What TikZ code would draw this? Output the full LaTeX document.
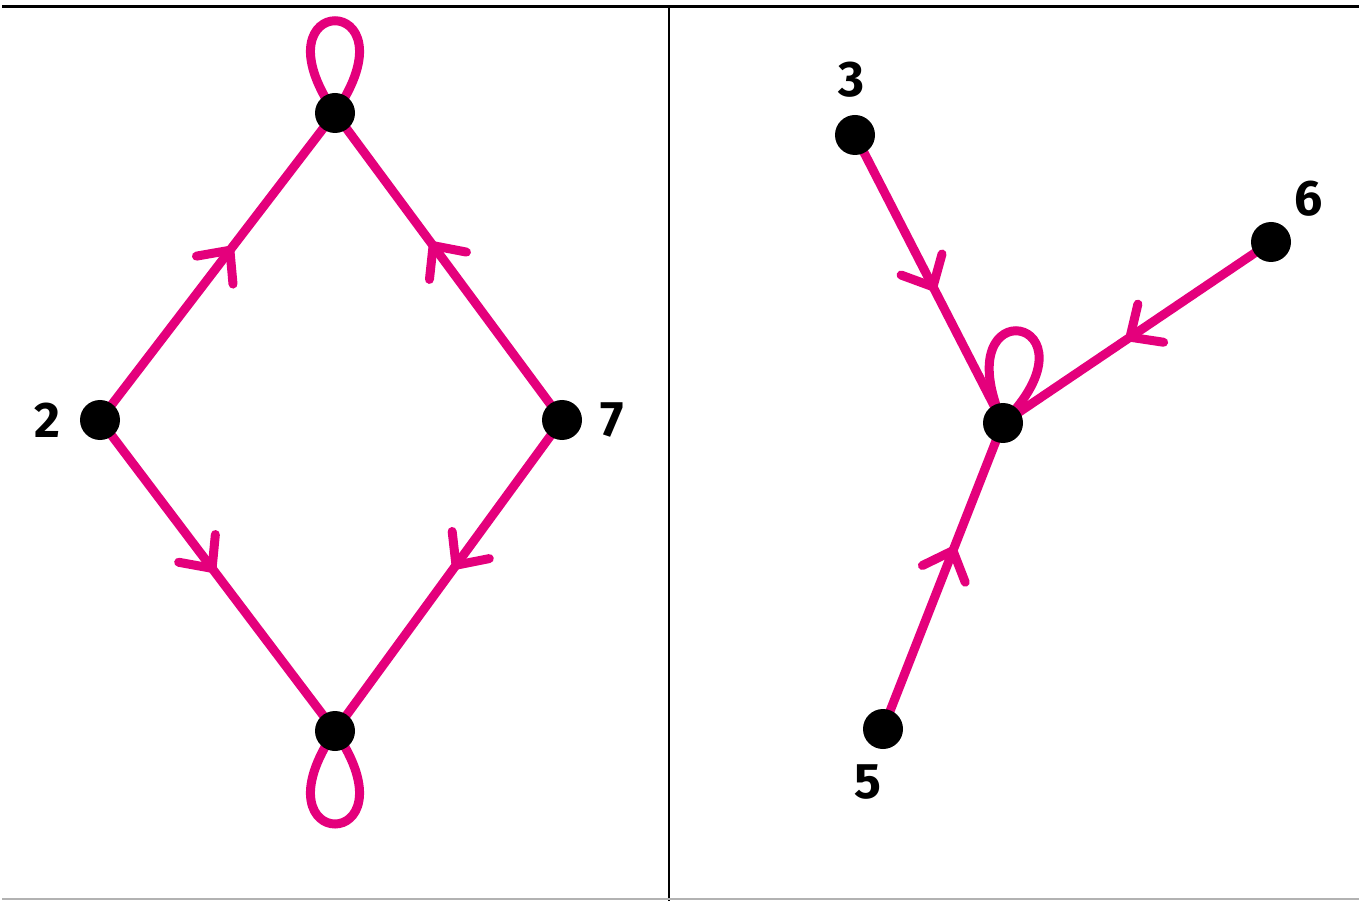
\documentclass[tikz,border=0pt]{standalone}
\usepackage{fontspec}
\setmainfont{Fira Sans}
\usetikzlibrary{decorations.markings,backgrounds}
\definecolor{pinkM}{RGB}{228,0,124}
\tikzset{
  vtx/.style={circle,fill=black,minimum size=40pt,inner sep=0pt},
  lbl/.style={font=\fontsize{50}{50}\selectfont\bfseries,inner sep=0pt},
  edge/.style={draw=pinkM,line width=9pt,line cap=round},
  midarrow/.style={postaction={decorate},decoration={markings,
    mark=at position #1 with {\draw[pinkM,line width=9pt,line cap=round,line join=round]
      (-25pt,23pt) -- (0pt,0pt) -- (-25pt,-23pt);}}}
}
\begin{document}
\begin{tikzpicture}[x=1pt,y=-1pt]
\useasboundingbox (0,0) rectangle (1361,901);
\draw[line width=3pt] (2,7) -- (1359,7);
\draw[line width=2pt] (669,7) -- (669,901);
\draw[black!30,line width=1.5pt] (2,899) -- (1359,899);
% left graph
\node[vtx] (t) at (335,113) {};
\node[vtx] (l) at (100,420) {};
\node[vtx] (r) at (562,420) {};
\node[vtx] (b) at (335,731) {};
\node[lbl] (l2) at (47,420) {2};
\node[lbl] (l7) at (612,420) {7};
% right graph
\node[vtx] (n3) at (855,135) {};
\node[vtx] (n6) at (1271,242) {};
\node[vtx] (c) at (1003,423) {};
\node[vtx] (n5) at (883,729) {};
\node[lbl] (l3) at (851,80) {3};
\node[lbl] (l6) at (1309,199) {6};
\node[lbl] (l5) at (868,782) {5};
\begin{scope}[on background layer]
\draw[edge,midarrow=0.553] (l.center) -- (t.center);
\draw[edge,midarrow=0.568] (r.center) -- (t.center);
\draw[edge,midarrow=0.477] (l.center) -- (b.center);
\draw[edge,midarrow=0.467] (r.center) -- (b.center);
\draw[edge] (t.center) .. controls +(-85,-123) and +(85,-123) .. (t.center);
\draw[edge] (b.center) .. controls +(-85,124) and +(85,124) .. (b.center);
\draw[edge,midarrow=0.527] (n3.center) -- (c.center);
\draw[edge,midarrow=0.526] (n6.center) -- (c.center);
\draw[edge,midarrow=0.583] (n5.center) -- (c.center);
\draw[edge] (c.center) .. controls +(-61,-138) and +(106,-107) .. (c.center);
\end{scope}
\end{tikzpicture}
\end{document}
